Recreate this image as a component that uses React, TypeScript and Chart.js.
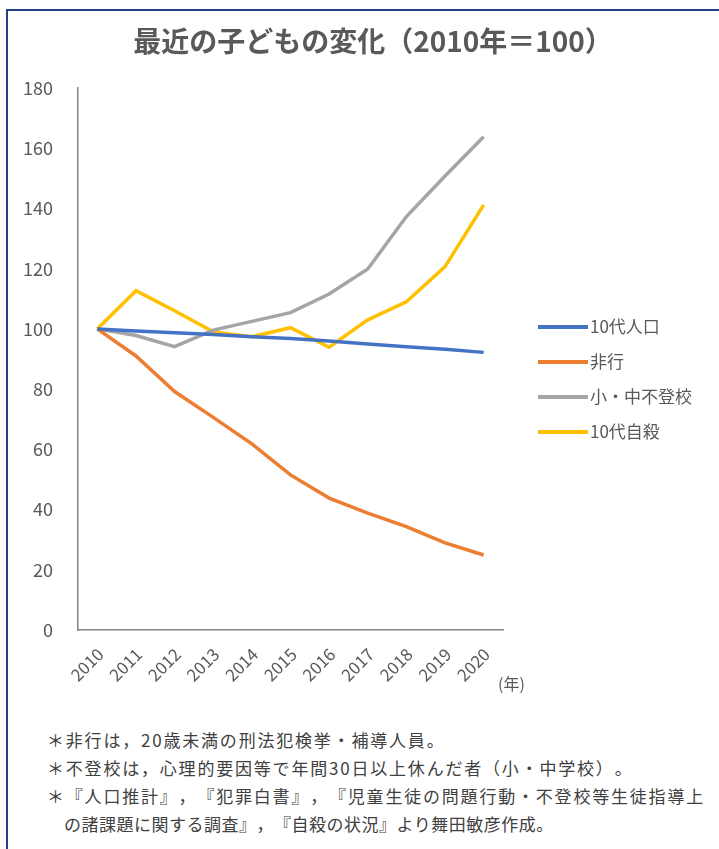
import React, { useEffect, useRef } from "react";
import { Chart, registerables } from "chart.js";

Chart.register(...registerables);

const years = ["2010", "2011", "2012", "2013", "2014", "2015", "2016", "2017", "2018", "2019", "2020"];
const teenPopulation = [100, 99.3, 98.7, 98.1, 97.4, 96.8, 96.0, 95.0, 94.1, 93.2, 92.2];
const delinquency = [100, 91.0, 79.2, 70.6, 61.8, 51.5, 43.8, 38.8, 34.3, 28.9, 24.9];
const truancy = [100, 97.8, 94.1, 99.6, 102.5, 105.4, 111.6, 119.9, 137.3, 150.8, 163.8];
const teenSuicide = [100, 112.7, 106.0, 99.0, 97.4, 100.4, 93.9, 103.0, 109.0, 120.7, 141.2];

const seriesNames = ["10代人口", "非行", "小・中不登校", "10代自殺"];
const seriesColors = ["#4472C4", "#ED7D31", "#A5A5A5", "#FFC000"];

const yMin = 0;
const yMax = 180;
const yStep = 20;

const titleText = "最近の子どもの変化（2010年＝100）";
const xUnitLabel = "(年)";
const footnotes = [
  "＊非行は，20歳未満の刑法犯検挙・補導人員。",
  "＊不登校は，心理的要因等で年間30日以上休んだ者（小・中学校）。",
  "＊『人口推計』，『犯罪白書』，『児童生徒の問題行動・不登校等生徒指導上",
  "の諸課題に関する調査』，『自殺の状況』より舞田敏彦作成。",
];

const FONT = "'Noto Sans CJK JP', 'Noto Sans', sans-serif";
const TEXT_COLOR = "#595959";

const overlayPlugin = {
  id: "overlay",
  afterDraw(chart: any) {
    const ctx = chart.ctx as CanvasRenderingContext2D;
    const area = chart.chartArea;
    ctx.save();
    // title
    ctx.font = `bold 28px ${FONT}`;
    ctx.fillStyle = TEXT_COLOR;
    ctx.textAlign = "center";
    ctx.textBaseline = "middle";
    ctx.fillText(titleText, 373, 41);
    // legend
    ctx.font = `17px ${FONT}`;
    ctx.textAlign = "left";
    chart.data.datasets.forEach((ds: any, i: number) => {
      const y = 327 + i * 35;
      const x0 = area.right + 35;
      ctx.strokeStyle = ds.borderColor;
      ctx.lineWidth = 4;
      ctx.beginPath();
      ctx.moveTo(x0, y);
      ctx.lineTo(x0 + 50, y);
      ctx.stroke();
      ctx.fillStyle = TEXT_COLOR;
      ctx.fillText(ds.label, x0 + 52, y);
    });
    // unit label
    ctx.font = `16px ${FONT}`;
    ctx.fillText(xUnitLabel, area.right - 5, area.bottom + 54);
    ctx.restore();
  },
};

export default function App() {
  const canvasRef = useRef<HTMLCanvasElement | null>(null);

  useEffect(() => {
    if (!canvasRef.current) return;
    const seriesData = [teenPopulation, delinquency, truancy, teenSuicide];
    const chart = new Chart(canvasRef.current, {
      type: "line",
      data: {
        labels: years,
        datasets: seriesData.map((d, i) => ({
          label: seriesNames[i],
          data: d,
          borderColor: seriesColors[i],
          backgroundColor: seriesColors[i],
          borderWidth: 3.5,
          pointRadius: 0,
          tension: 0,
          fill: false,
        })),
      },
      options: {
        animation: false,
        responsive: false,
        layout: { padding: { left: 0, top: 88, right: 216, bottom: 20 } },
        plugins: {
          legend: { display: false },
          title: { display: false },
          tooltip: { enabled: false },
        },
        scales: {
          x: {
            type: "category",
            offset: true,
            grid: { display: false, drawTicks: false },
            border: { display: true, color: "#868686", width: 1.5 },
            ticks: {
              autoSkip: false,
              minRotation: 45,
              maxRotation: 45,
              color: TEXT_COLOR,
              font: { family: FONT, size: 17 },
              padding: 14,
              labelOffset: 3,
            },
            afterFit: (s: any) => {
              s.height = 70;
            },
          },
          y: {
            min: yMin,
            max: yMax,
            grid: { display: false, drawTicks: false },
            border: { display: true, color: "#868686", width: 1.5 },
            ticks: {
              stepSize: yStep,
              color: TEXT_COLOR,
              font: { family: FONT, size: 18 },
              padding: 25,
            },
            afterFit: (s: any) => {
              s.width = 78;
            },
          },
        },
      },
      plugins: [overlayPlugin],
    });
    return () => chart.destroy();
  }, []);

  return (
    <div
      style={{
        position: "fixed",
        left: 0,
        top: 0,
        width: 719,
        height: 849,
        overflow: "hidden",
        background: "#ffffff",
      }}
    >
      <div
        style={{
          position: "absolute",
          left: 6,
          top: 9,
          width: 760,
          height: 900,
          borderTop: "2px solid #22408c",
          borderLeft: "2px solid #22408c",
        }}
      />
      <canvas
        ref={canvasRef}
        width={719}
        height={720}
        style={{ position: "absolute", left: 0, top: 0, width: 719, height: 720 }}
      />
      {footnotes.map((t, i) => (
        <div
          key={i}
          style={
            {
              position: "absolute",
              left: i === 3 ? 64 : 47,
              top: 726 + i * 28,
              height: 28,
              lineHeight: "28px",
              fontFamily: FONT,
              fontSize: 17,
              letterSpacing: i === 3 ? 0.5 : 1.8,
              color: "#404040",
              whiteSpace: "nowrap",
              textSpacingTrim: "space-all",
            } as any
          }
        >
          {t}
        </div>
      ))}
    </div>
  );
}
